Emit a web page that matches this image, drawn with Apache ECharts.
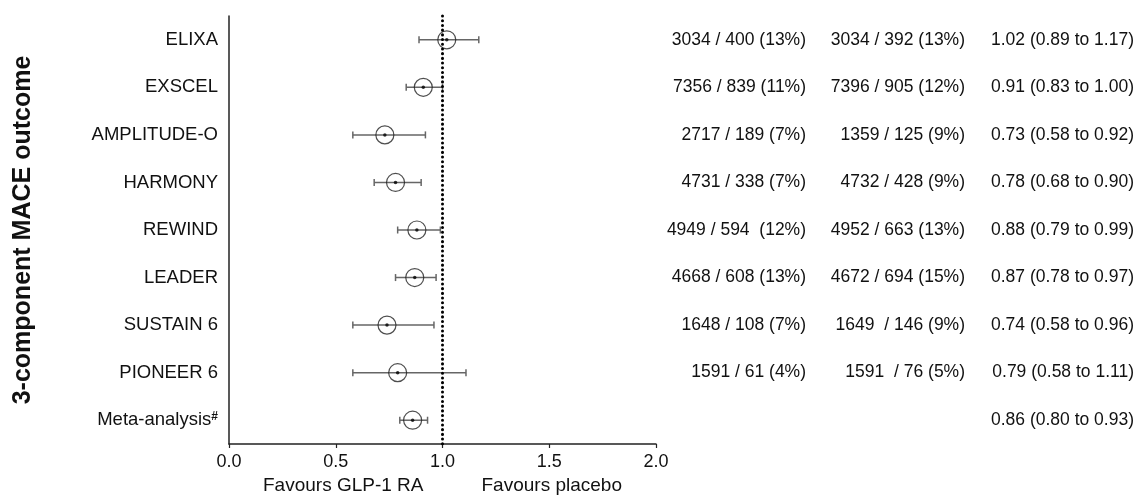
<!DOCTYPE html>
<html>
<head>
<meta charset="utf-8">
<script src="https://cdn.jsdelivr.net/npm/echarts@6/dist/echarts.min.js"></script>
<style>
  html, body { margin: 0; padding: 0; background: #fff; }
  #main { width: 1136px; height: 497px; }
</style>
</head>
<body>
<div id="main"></div>
<script>
// trials, top to bottom
var trials = ['ELIXA', 'EXSCEL', 'AMPLITUDE-O', 'HARMONY', 'REWIND', 'LEADER', 'SUSTAIN 6', 'PIONEER 6', 'Meta-analysis#'];
var hr = [1.02, 0.91, 0.73, 0.78, 0.88, 0.87, 0.74, 0.79, 0.86];
var lo = [0.89, 0.83, 0.58, 0.68, 0.79, 0.78, 0.58, 0.58, 0.80];
var hi = [1.17, 1.00, 0.92, 0.90, 0.99, 0.97, 0.96, 1.11, 0.93];

// right hand text columns
var glpCol = ['3034 / 400 (13%)', '7356 / 839 (11%)', '2717 / 189 (7%)', '4731 / 338 (7%)', '4949 / 594  (12%)',
  '4668 / 608 (13%)', '1648 / 108 (7%)', '1591 / 61 (4%)', ''];
var placeboCol = ['3034 / 392 (13%)', '7396 / 905 (12%)', '1359 / 125 (9%)', '4732 / 428 (9%)', '4952 / 663 (13%)',
  '4672 / 694 (15%)', '1649  / 146 (9%)', '1591  / 76 (5%)', ''];
var hrCol = ['1.02 (0.89 to 1.17)', '0.91 (0.83 to 1.00)', '0.73 (0.58 to 0.92)', '0.78 (0.68 to 0.90)', '0.88 (0.79 to 0.99)',
  '0.87 (0.78 to 0.97)', '0.74 (0.58 to 0.96)', '0.79 (0.58 to 1.11)', '0.86 (0.80 to 0.93)'];

var xTicks = [0, 0.5, 1, 1.5, 2];

var FONT = '"Liberation Sans", Arial, sans-serif';
var myChart = echarts.init(document.getElementById('main'));

// text columns drawn as extra category axes on the right
function textAxis(data, offset) {
  return {
    type: 'category',
    data: data.map(function (s, i) { return 'r' + i; }),
    inverse: true,
    position: 'right',
    offset: offset,
    axisLine: { show: false },
    axisTick: { show: false },
    axisLabel: {
      align: 'right', margin: 0, color: '#111', fontSize: 17.5, fontFamily: FONT,
      formatter: function (v, i) { return data[i]; }
    }
  };
}

var option = {
  animation: false,
  grid: { left: 229, right: 480, top: 16, bottom: 53, outerBoundsMode: 'none', containLabel: false },
  xAxis: {
    type: 'value',
    min: xTicks[0],
    max: xTicks[xTicks.length - 1],
    interval: 0.5,
    splitLine: { show: false },
    axisLine: { show: true, onZero: false, lineStyle: { color: '#222', width: 1.5 } },
    axisTick: { show: true, length: 4, lineStyle: { color: '#222', width: 1.2 } },
    axisLabel: {
      color: '#111', fontSize: 18, fontFamily: FONT, margin: 9,
      formatter: function (v) { return v.toFixed(1); }
    },
    name: '{a|Favours GLP-1 RA}{b|Favours placebo}',
    nameLocation: 'middle',
    nameGap: 27,
    nameTextStyle: {
      rich: {
        a: { fontSize: 19, color: '#111', fontFamily: FONT },
        b: { fontSize: 19, color: '#111', fontFamily: FONT, padding: [0, 0, 0, 58] }
      }
    }
  },
  yAxis: [
    {
      type: 'category',
      data: trials,
      inverse: true,
      axisLine: { show: true, onZero: false, lineStyle: { color: '#222', width: 1.5 } },
      axisTick: { alignWithLabel: true, length: 7, lineStyle: { color: '#222', width: 1.2 } },
      axisLabel: {
        color: '#111', fontSize: 18.5, fontFamily: FONT, margin: 11,
        formatter: function (v) { return v.replace('#', '{sup|#}'); },
        rich: { sup: { fontSize: 12, fontWeight: 'bold', color: '#111', fontFamily: FONT, verticalAlign: 'top' } }
      },
      name: '3-component MACE outcome',
      nameLocation: 'middle',
      nameGap: 193,
      nameTextStyle: { fontSize: 25, fontWeight: 'bold', color: '#111', fontFamily: FONT }
    },
    textAxis(glpCol, 150),
    textAxis(placeboCol, 309),
    textAxis(hrCol, 478)
  ],
  series: [
    {
      name: 'ci',
      type: 'custom',
      xAxisIndex: 0,
      yAxisIndex: 0,
      encode: { x: 1, y: 0 },
      data: trials.map(function (t, i) { return [t, lo[i], hi[i]]; }),
      renderItem: function (params, api) {
        var y = api.value(0);
        var p1 = api.coord([api.value(1), y]);
        var p2 = api.coord([api.value(2), y]);
        var h = 3.5;
        var st = { stroke: '#666', lineWidth: 1.5 };
        return {
          type: 'group',
          children: [
            { type: 'line', shape: { x1: p1[0], y1: p1[1], x2: p2[0], y2: p2[1] }, style: st },
            { type: 'line', shape: { x1: p1[0], y1: p1[1] - h, x2: p1[0], y2: p1[1] + h }, style: st },
            { type: 'line', shape: { x1: p2[0], y1: p2[1] - h, x2: p2[0], y2: p2[1] + h }, style: st }
          ]
        };
      },
      z: 2
    },
    {
      name: 'hr',
      type: 'scatter',
      xAxisIndex: 0,
      yAxisIndex: 0,
      symbol: 'circle',
      symbolSize: 18,
      itemStyle: { color: 'rgba(0,0,0,0)', borderColor: '#222', borderWidth: 1.2 },
      data: trials.map(function (t, i) { return [hr[i], t]; }),
      markLine: {
        silent: true,
        symbol: 'none',
        label: { show: false },
        lineStyle: { color: '#000', width: 3, type: [0.1, 4.6], cap: 'round' },
        data: [{ xAxis: 1 }]
      },
      z: 3
    },
    {
      name: 'point',
      type: 'scatter',
      xAxisIndex: 0,
      yAxisIndex: 0,
      symbolSize: 3.5,
      itemStyle: { color: '#000' },
      data: trials.map(function (t, i) { return [hr[i], t]; }),
      z: 4
    }
  ]
};

myChart.setOption(option);
</script>
</body>
</html>
